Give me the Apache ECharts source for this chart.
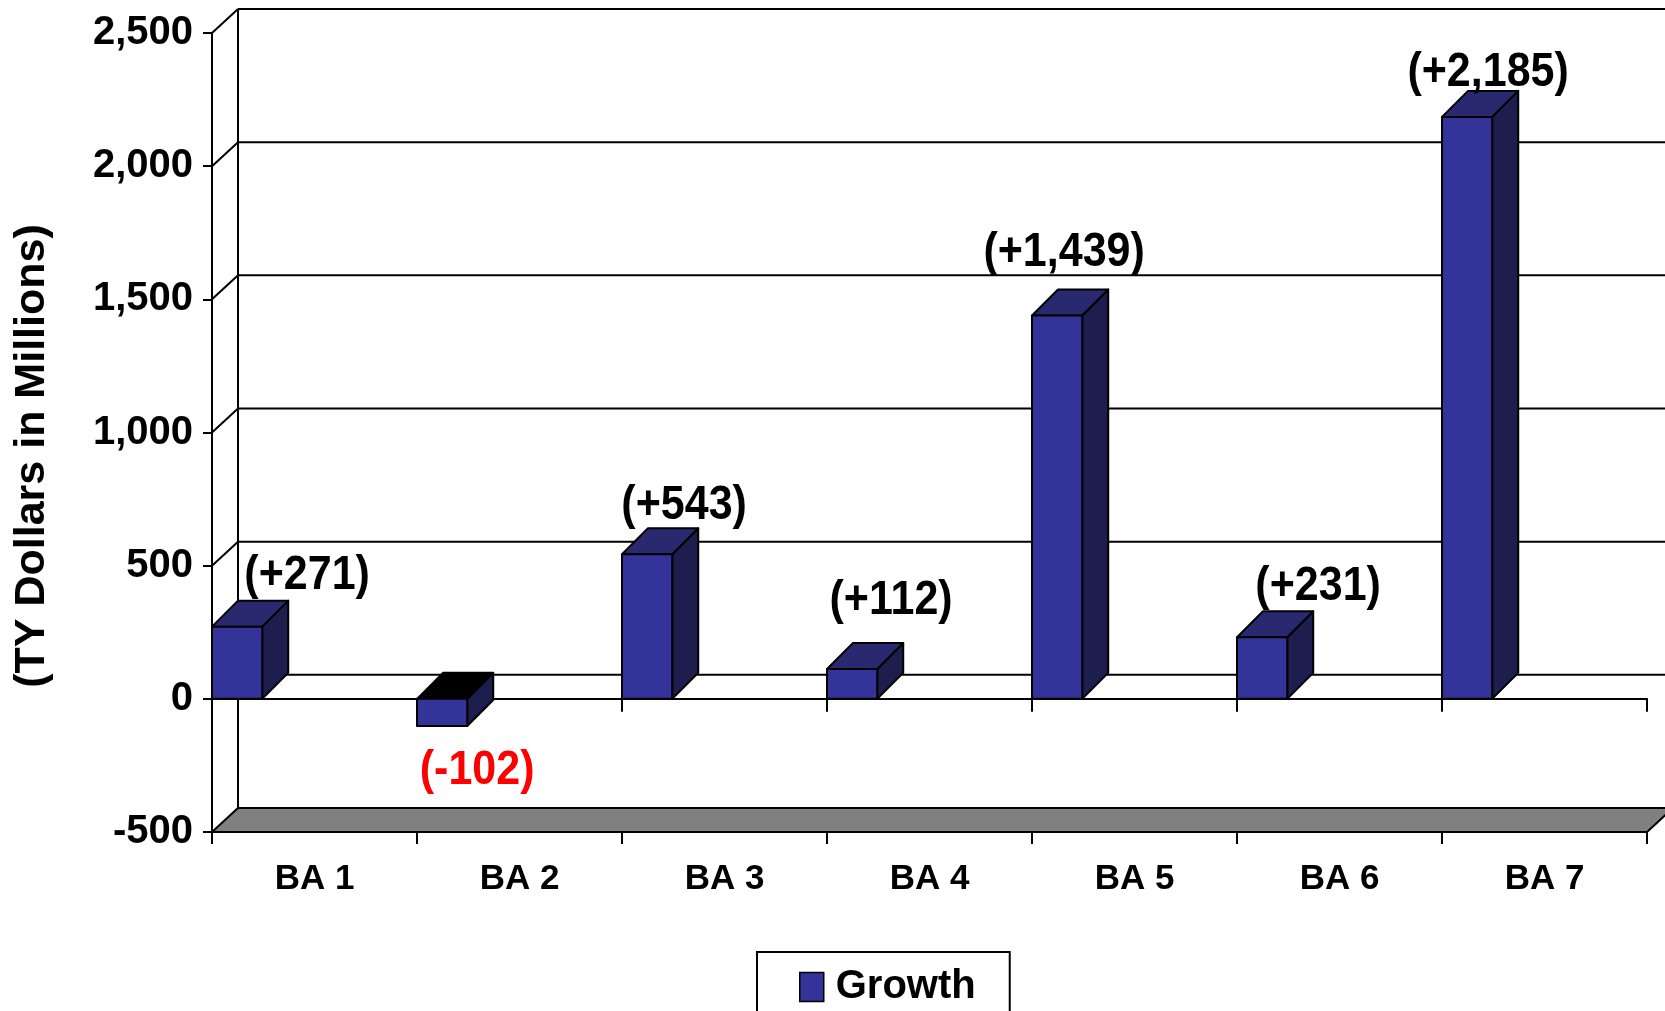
<!DOCTYPE html>
<html>
<head>
<meta charset="utf-8">
<script src="https://cdn.jsdelivr.net/npm/echarts@6/dist/echarts.min.js"></script>
<style>
  html, body { margin: 0; padding: 0; background: #ffffff; }
  #chart { width: 1665px; height: 1011px; }
</style>
</head>
<body>
<div id="chart"></div>
<script>
// ---- data ----
const categories = ['BA 1', 'BA 2', 'BA 3', 'BA 4', 'BA 5', 'BA 6', 'BA 7'];
const growth = [271, -102, 543, 112, 1439, 231, 2185];
const yTicks = [-500, 0, 500, 1000, 1500, 2000, 2500];

// ---- layout / style ----
// value-label placement, in px, relative to the middle of each bar's front face end
const labelShift = [[70, -51], [35, 45], [37, -48], [39, -68], [7, -63], [56, -50], [21, -44]];
const FONT = '"Liberation Sans", Arial, Helvetica, sans-serif';
const BAR_FRONT = '#333399';
const BAR_TOP = '#29296f';
const BAR_SIDE = '#1d1d4e';
const DEPTH_X = 26;      // horizontal depth of the 3D box
const BAR_DY = 26;       // vertical depth of bars
const WALL_DY = 24;      // vertical depth of walls / floor
const LINE = { stroke: '#000', lineWidth: 2, lineJoin: 'round' };

function fmtValue(v) {
  return '(' + (v < 0 ? '-' : '+') + Math.abs(v).toLocaleString('en-US') + ')';
}

const chart = echarts.init(document.getElementById('chart'), null, { renderer: 'canvas' });

// walls, gridlines and floor of the pseudo-3D frame
function renderFrame(params, api) {
  const cs = params.coordSys;
  const v = api.value(1);
  const y = api.coord([0, v])[1];
  const x0 = cs.x;
  const x1 = cs.x + cs.width;
  const children = [];
  if (v === yTicks[0]) {
    children.push({
      type: 'polygon',
      shape: { points: [[x0, y], [x1, y], [x1 + DEPTH_X, y - WALL_DY], [x0 + DEPTH_X, y - WALL_DY]] },
      style: Object.assign({ fill: '#808080' }, LINE)
    });
    const yTop = api.coord([0, yTicks[yTicks.length - 1]])[1];
    children.push({
      type: 'line',
      shape: { x1: x0 + DEPTH_X, y1: y - WALL_DY, x2: x0 + DEPTH_X, y2: yTop - WALL_DY },
      style: LINE
    });
  } else {
    children.push({
      type: 'line',
      shape: { x1: x0, y1: y, x2: x0 + DEPTH_X, y2: y - WALL_DY },
      style: LINE
    });
    children.push({
      type: 'line',
      shape: { x1: x0 + DEPTH_X, y1: y - WALL_DY, x2: x1 + DEPTH_X + 40, y2: y - WALL_DY },
      style: LINE
    });
  }
  return { type: 'group', children: children };
}

// 3D box bars with value labels
function renderBar(params, api) {
  const idx = api.value(0);
  const v = api.value(1);
  const band = api.size([1, 0])[0];
  const base = api.coord([idx, 0]);
  const end = api.coord([idx, v]);
  const w = band * 0.245;
  const x0 = base[0] - band / 2;
  const yT = Math.min(base[1], end[1]);
  const yB = Math.max(base[1], end[1]);
  const dx = DEPTH_X, dy = BAR_DY;
  const shift = labelShift[params.dataIndex];
  const ly = (v < 0 ? yB : yT) + shift[1];
  return {
    type: 'group',
    children: [
      {
        type: 'polygon',
        shape: { points: [[x0 + w, yT], [x0 + w + dx, yT - dy], [x0 + w + dx, yB - dy], [x0 + w, yB]] },
        style: Object.assign({ fill: BAR_SIDE }, LINE)
      },
      {
        type: 'polygon',
        shape: { points: [[x0, yT], [x0 + w, yT], [x0 + w + dx, yT - dy], [x0 + dx, yT - dy]] },
        style: Object.assign({ fill: v < 0 ? '#000000' : BAR_TOP }, LINE)
      },
      {
        type: 'rect',
        shape: { x: x0, y: yT, width: w, height: yB - yT },
        style: Object.assign({ fill: BAR_FRONT }, LINE)
      },
      {
        type: 'text',
        x: x0 + w / 2 + shift[0],
        y: ly,
        scaleY: 1.1,
        style: {
          text: fmtValue(v),
          fill: v < 0 ? '#ff0000' : '#000000',
          font: 'bold 43px ' + FONT,
          align: 'center',
          verticalAlign: 'middle'
        }
      }
    ]
  };
}

const option = {
  backgroundColor: '#ffffff',
  animation: false,
  grid: { left: 212, right: 18, top: 33, bottom: 179, containLabel: false },
  legend: {
    data: ['Growth'],
    left: 757,
    top: 952,
    padding: [15, 34, 40, 42],
    borderColor: '#000',
    borderWidth: 2,
    itemWidth: 24,
    itemHeight: 29,
    icon: 'rect',
    selectedMode: false,
    itemStyle: { borderColor: '#000', borderWidth: 1.5 },
    textStyle: {
      fontFamily: FONT, fontWeight: 'bold', fontSize: 40, color: '#000',
      padding: [0, 0, 0, 7]
    }
  },
  graphic: [{
    type: 'text',
    x: 32,
    y: 456,
    rotation: Math.PI / 2,
    style: {
      text: '(TY Dollars in Millions)',
      font: 'bold 43px ' + FONT,
      fill: '#000',
      align: 'center',
      verticalAlign: 'middle'
    }
  }],
  xAxis: [
    {
      type: 'category',
      data: categories,
      position: 'bottom',
      boundaryGap: true,
      axisLine: { show: true, onZero: true, lineStyle: { color: '#000', width: 2 } },
      axisTick: { show: true, length: 13, lineStyle: { color: '#000', width: 2 } },
      axisLabel: { show: false },
      splitLine: { show: false }
    },
    {
      type: 'category',
      data: categories,
      position: 'bottom',
      boundaryGap: true,
      axisLine: { show: true, onZero: false, lineStyle: { color: '#000', width: 2 } },
      axisTick: { show: true, length: 12, lineStyle: { color: '#000', width: 2 } },
      axisLabel: {
        show: true, margin: 30, color: '#000',
        fontFamily: FONT, fontWeight: 'bold', fontSize: 35
      },
      splitLine: { show: false }
    }
  ],
  yAxis: {
    type: 'value',
    min: yTicks[0],
    max: yTicks[yTicks.length - 1],
    interval: 500,
    axisLine: { show: true, lineStyle: { color: '#000', width: 2 } },
    axisTick: { show: true, length: 9, lineStyle: { color: '#000', width: 2 } },
    axisLabel: {
      margin: 19, color: '#000', fontFamily: FONT, fontWeight: 'bold', fontSize: 40,
      formatter: function (v) { return v.toLocaleString('en-US'); }
    },
    splitLine: { show: false }
  },
  series: [
    {
      name: 'frame',
      type: 'custom',
      xAxisIndex: 0,
      yAxisIndex: 0,
      z: 1,
      silent: true,
      encode: { x: 0, y: 1 },
      data: yTicks.map(function (v) { return [0, v]; }),
      renderItem: renderFrame
    },
    {
      name: 'Growth',
      type: 'custom',
      xAxisIndex: 0,
      yAxisIndex: 0,
      z: 3,
      itemStyle: { color: BAR_FRONT },
      encode: { x: 0, y: 1 },
      data: growth.map(function (v, i) { return [i, v]; }),
      renderItem: renderBar
    }
  ]
};

chart.setOption(option);
</script>
</body>
</html>
